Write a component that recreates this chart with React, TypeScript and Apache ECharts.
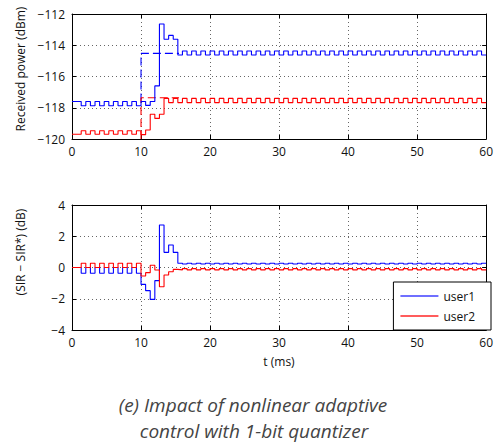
import React, { useEffect, useRef } from 'react';
import * as echarts from 'echarts';

// time slot length (ms) of the step signals
const SLOT_MS = 2 / 3;
const T_END = 60;
const X_TICKS = [0, 10, 20, 30, 40, 50, 60];
const POWER_TICKS = [-120, -118, -116, -114, -112];
const SIR_TICKS = [-4, -2, 0, 2, 4];

// Received power (dBm), one value per slot
const user1Power = [
  -117.6, -117.6, -117.87, -117.6, -117.87, -117.6, -117.87, -117.6, -117.87, -117.6,
  -117.87, -117.6, -117.87, -117.6, -117.87,
  -117.6, -117.85, -117.6, -116.6, -112.64, -113.62, -113.37, -113.62,
  -114.62, -114.37, -114.62, -114.37, -114.62, -114.37, -114.62, -114.37, -114.62, -114.37,
  -114.62, -114.37, -114.62, -114.37, -114.62, -114.37, -114.62, -114.37, -114.62, -114.37,
  -114.62, -114.37, -114.62, -114.37, -114.62, -114.37, -114.62, -114.37, -114.62, -114.37,
  -114.62, -114.37, -114.62, -114.37, -114.62, -114.37, -114.62, -114.37, -114.62, -114.37,
  -114.62, -114.37, -114.62, -114.37, -114.62, -114.37, -114.62, -114.37, -114.62, -114.37,
  -114.62, -114.37, -114.62, -114.37, -114.62, -114.37, -114.62, -114.37, -114.62, -114.37,
  -114.62, -114.37, -114.62, -114.37, -114.62, -114.37, -114.62,
];

const user2Power = [
  -119.7, -119.7, -119.47, -119.7, -119.47, -119.7, -119.47, -119.7, -119.47, -119.7,
  -119.47, -119.7, -119.47, -119.7, -119.47,
  -119.72, -119.42, -118.42, -118.68, -118.42,
  -117.4, -117.67, -117.4, -117.67, -117.4, -117.67, -117.4, -117.67, -117.4, -117.67,
  -117.4, -117.67, -117.4, -117.67, -117.4, -117.67, -117.4, -117.67, -117.4, -117.67,
  -117.4, -117.67, -117.4, -117.67, -117.4, -117.67, -117.4, -117.67, -117.4, -117.67,
  -117.4, -117.67, -117.4, -117.67, -117.4, -117.67, -117.4, -117.67, -117.4, -117.67,
  -117.4, -117.67, -117.4, -117.67, -117.4, -117.67, -117.4, -117.67, -117.4, -117.67,
  -117.4, -117.67, -117.4, -117.67, -117.4, -117.67, -117.4, -117.67, -117.4, -117.67,
  -117.4, -117.67, -117.4, -117.67, -117.4, -117.67, -117.4, -117.67, -117.4, -117.67,
];

// Target (optimal) power levels, dashed
const user1Target = [[10, -117.6], [10, -114.52], [15.5, -114.52]];
const user2Target = [[10, -120], [10, -117.36], [15.5, -117.36]];

// SIR - SIR* (dB), one value per slot
const user1SirErr = [
  0, 0, -0.37, 0, -0.37, 0, -0.37, 0, -0.37, 0,
  -0.37, 0, -0.37, 0, -0.37,
  -1.08, -1.48, -2.04, -0.84, 2.72, 0.97, 1.44, 0.97,
  0.27, 0.22, 0.27, 0.22, 0.27, 0.22, 0.27, 0.22, 0.27, 0.22,
  0.27, 0.22, 0.27, 0.22, 0.27, 0.22, 0.27, 0.22, 0.27, 0.22,
  0.27, 0.22, 0.27, 0.22, 0.27, 0.22, 0.27, 0.22, 0.27, 0.22,
  0.27, 0.22, 0.27, 0.22, 0.27, 0.22, 0.27, 0.22, 0.27, 0.22,
  0.27, 0.22, 0.27, 0.22, 0.27, 0.22, 0.27, 0.22, 0.27, 0.22,
  0.27, 0.22, 0.27, 0.22, 0.27, 0.22, 0.27, 0.22, 0.27, 0.22,
  0.27, 0.22, 0.27, 0.22, 0.27, 0.22, 0.27,
];

const user2SirErr = [
  0, 0, 0.27, 0, 0.27, 0, 0.27, 0, 0.27, 0,
  0.27, 0, 0.27, 0, 0.27,
  -0.54, -0.33, 0.14, -0.16, -1.23, -0.48, -0.27, -0.12,
  -0.15, -0.07, -0.15, -0.07, -0.15, -0.07, -0.15, -0.07, -0.15, -0.07,
  -0.15, -0.07, -0.15, -0.07, -0.15, -0.07, -0.15, -0.07, -0.15, -0.07,
  -0.15, -0.07, -0.15, -0.07, -0.15, -0.07, -0.15, -0.07, -0.15, -0.07,
  -0.15, -0.07, -0.15, -0.07, -0.15, -0.07, -0.15, -0.07, -0.15, -0.07,
  -0.15, -0.07, -0.15, -0.07, -0.15, -0.07, -0.15, -0.07, -0.15, -0.07,
  -0.15, -0.07, -0.15, -0.07, -0.15, -0.07, -0.15, -0.07, -0.15, -0.07,
  -0.15, -0.07, -0.15, -0.07, -0.15, -0.07, -0.15,
];

const toSteps = (vals: number[]) => {
  const pts = vals.map((v, k) => [k * SLOT_MS, v]);
  pts.push([T_END, vals[vals.length - 1]]);
  return pts;
};

const FONT = 'Open Sans';
const minusFmt = (v: number) => (v < 0 ? '\u2212' + Math.abs(v) : String(v));

const BLUE = '#0000ff';
const RED = '#ff0000';

function makeX(gridIndex: number, main: boolean) {
  return {
    type: 'value',
    gridIndex,
    position: main ? 'bottom' : 'top',
    min: X_TICKS[0],
    max: X_TICKS[X_TICKS.length - 1],
    interval: 10,
    axisLine: { show: true, onZero: false, lineStyle: { color: '#000', width: 1 } },
    axisTick: { show: true, inside: true, length: 4, lineStyle: { color: '#000' } },
    axisLabel: main
      ? { show: true, fontFamily: FONT, fontSize: 12, color: '#111', margin: 6 }
      : { show: false },
    splitLine: main
      ? { show: true, lineStyle: { color: '#666', type: [1, 3], width: 1 } }
      : { show: false },
  };
}

function makeY(gridIndex: number, main: boolean, ticks: number[]) {
  return {
    type: 'value',
    gridIndex,
    position: main ? 'left' : 'right',
    min: ticks[0],
    max: ticks[ticks.length - 1],
    interval: 2,
    axisLine: { show: true, onZero: false, lineStyle: { color: '#000', width: 1 } },
    axisTick: { show: true, inside: true, length: 4, lineStyle: { color: '#000' } },
    axisLabel: main
      ? { show: true, fontFamily: FONT, fontSize: 12, color: '#111', margin: 7, formatter: minusFmt }
      : { show: false },
    splitLine: main
      ? { show: true, lineStyle: { color: '#666', type: [1, 3], width: 1 } }
      : { show: false },
  };
}

export default function App() {
  const ref = useRef<HTMLDivElement>(null);
  useEffect(() => {
    if (!ref.current) return;
    const chart = echarts.init(ref.current, undefined, { renderer: 'svg' });
    const stepLine = (name: string, color: string, data: any, xi: number, yi: number) => ({
      name,
      type: 'line',
      step: 'end',
      data,
      xAxisIndex: xi,
      yAxisIndex: yi,
      symbol: 'none',
      lineStyle: { color, width: 1.1 },
      itemStyle: { color },
    });
    chart.setOption({
      animation: false,
      backgroundColor: '#fff',
      grid: [
        { left: 72, top: 14, width: 417, height: 125 },
        { left: 72, top: 205, width: 417, height: 125 },
      ],
      xAxis: [makeX(0, true), makeX(0, false), makeX(1, true), makeX(1, false)],
      yAxis: [
        makeY(0, true, POWER_TICKS),
        makeY(0, false, POWER_TICKS),
        makeY(1, true, SIR_TICKS),
        makeY(1, false, SIR_TICKS),
      ],
      legend: {
        data: [
          { name: 'user1', icon: 'rect', itemStyle: { color: '#6f6fff' } },
          { name: 'user2', icon: 'rect', itemStyle: { color: '#ff5c5c' } },
        ],
        orient: 'vertical',
        right: 5,
        top: 282,
        padding: [6, 16, 6, 7],
        itemGap: 4,
        itemWidth: 38,
        itemHeight: 2,
        backgroundColor: '#fff',
        borderColor: '#000',
        borderWidth: 1,
        borderRadius: 0,
        textStyle: { fontFamily: FONT, fontSize: 12, color: '#111', lineHeight: 16 },
        selectedMode: false,
      },
      graphic: [
        {
          type: 'text',
          x: 20,
          y: 69,
          rotation: Math.PI / 2,
          style: { text: 'Received power (dBm)', fontFamily: FONT, fontSize: 12, fill: '#111', align: 'center', verticalAlign: 'middle' },
        },
        {
          type: 'text',
          x: 20,
          y: 252,
          rotation: Math.PI / 2,
          style: { text: '(SIR \u2212 SIR*) (dB)', fontFamily: FONT, fontSize: 12, fill: '#111', align: 'center', verticalAlign: 'middle' },
        },
        {
          type: 'text',
          x: 279,
          y: 361,
          style: { text: 't (ms)', fontFamily: FONT, fontSize: 12, fill: '#111', align: 'center', verticalAlign: 'middle' },
        },
        {
          type: 'text',
          x: 253,
          y: 405,
          style: { text: '(e) Impact of nonlinear adaptive', fontFamily: FONT, fontStyle: 'italic', fontSize: 19, fill: '#444', align: 'center', verticalAlign: 'middle' },
        },
        {
          type: 'text',
          x: 254,
          y: 431,
          style: { text: 'control with 1-bit quantizer', fontFamily: FONT, fontStyle: 'italic', fontSize: 19, fill: '#444', align: 'center', verticalAlign: 'middle' },
        },
      ],
      series: [
        {
          name: 'user1 target',
          type: 'line',
          data: user1Target,
          xAxisIndex: 0,
          yAxisIndex: 0,
          symbol: 'none',
          lineStyle: { color: BLUE, width: 1.1, type: [8, 4] },
        },
        {
          name: 'user2 target',
          type: 'line',
          data: user2Target,
          xAxisIndex: 0,
          yAxisIndex: 0,
          symbol: 'none',
          lineStyle: { color: RED, width: 1.1, type: [8, 4] },
        },
        stepLine('user1', BLUE, toSteps(user1Power), 0, 0),
        stepLine('user2', RED, toSteps(user2Power), 0, 0),
        stepLine('user1', BLUE, toSteps(user1SirErr), 2, 2),
        stepLine('user2', RED, toSteps(user2SirErr), 2, 2),
      ],
    });
    return () => chart.dispose();
  }, []);
  return <div ref={ref} style={{ width: 496, height: 445, position: 'absolute', left: 0, top: 0 }} />;
}
